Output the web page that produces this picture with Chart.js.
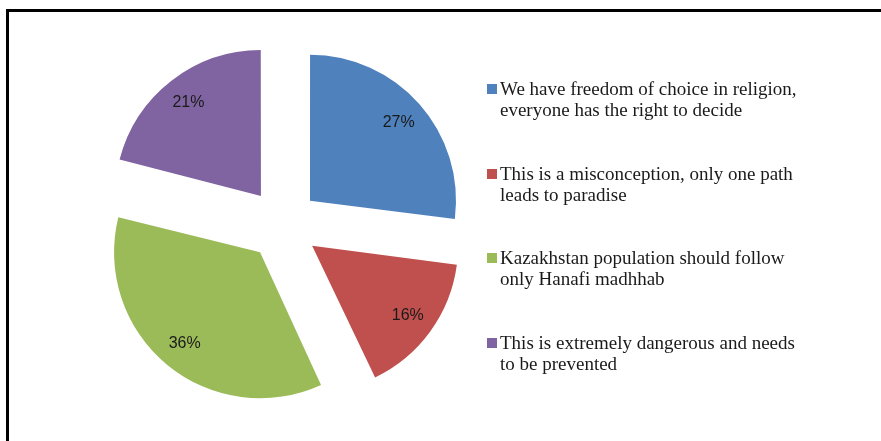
<!DOCTYPE html>
<html>
<head>
<meta charset="utf-8">
<script src="https://cdn.jsdelivr.net/npm/chart.js@4.4.1/dist/chart.umd.min.js"></script>
<style>
  html, body { margin: 0; padding: 0; background: #fff; }
  #wrap { position: relative; width: 881px; height: 441px; overflow: hidden; }
  #frame { position: absolute; left: 6px; top: 9px; width: 900px; height: 460px; border-top: 3px solid #000; border-left: 3px solid #000; }
  #pie { position: absolute; left: 0; top: 0; }
  #legend { position: absolute; left: 487px; top: 0; font-family: "Liberation Serif", "Times New Roman", serif; font-size: 19px; line-height: 21px; color: #1a1a1a; }
  .item { position: absolute; left: 0; white-space: nowrap; }
  .box { position: absolute; left: 0; top: 6px; width: 10px; height: 10px; }
  .text { position: absolute; left: 13px; top: 0; }
</style>
</head>
<body>
<div id="wrap">
  <div id="frame"></div>
  <canvas id="pie" width="881" height="441"></canvas>
  <div id="legend"></div>
</div>
<script>
const labels = [
    ['We have freedom of choice in religion,', 'everyone has the right to decide'],
    ['This is a misconception, only one path', 'leads to paradise'],
    ['Kazakhstan population should follow', 'only Hanafi madhhab'],
    ['This is extremely dangerous and needs', 'to be prevented']
];
const shares = [27, 16, 36, 21];
const colors = ['#4F81BD', '#C0504D', '#9BBB59', '#8064A2'];

const pieRadius = 146;
const explode = 36;          // px each slice is pushed out
const labelDist = 0.81;      // label position, fraction of radius past the slice tip

// Chart.js grows narrow exploded slices a little; undo that so every slice has the same radius
const evenRadius = {
    id: 'evenRadius',
    afterDatasetUpdate(chart, args) {
        const meta = chart.getDatasetMeta(args.index);
        meta.data.forEach(arc => {
            const fix = 1 - Math.sin(Math.min(Math.PI, arc.circumference));
            arc.outerRadius = pieRadius - explode * fix;
        });
    }
};

// percent labels inside the slices
const pctLabels = {
    id: 'pctLabels',
    afterDatasetsDraw(chart) {
        const ctx = chart.ctx;
        const meta = chart.getDatasetMeta(0);
        ctx.save();
        ctx.font = '16px "Liberation Sans", Arial, sans-serif';
        ctx.fillStyle = '#1a1a1a';
        ctx.textAlign = 'center';
        ctx.textBaseline = 'middle';
        meta.data.forEach((arc, i) => {
            const mid = (arc.startAngle + arc.endAngle) / 2;
            const d = explode + labelDist * pieRadius;
            ctx.fillText(shares[i] + '%', arc.x + Math.cos(mid) * d, arc.y + Math.sin(mid) * d);
        });
        ctx.restore();
    }
};

const ctx = document.getElementById('pie').getContext('2d');
new Chart(ctx, {
    type: 'pie',
    data: {
        labels: labels,
        datasets: [{
            data: shares,
            backgroundColor: colors,
            borderWidth: 0,
            offset: explode * 4,
            hoverOffset: 0
        }]
    },
    options: {
        responsive: false,
        animation: false,
        events: [],
        radius: pieRadius,
        layout: { padding: { left: 0, right: 315, top: 8, bottom: 0 } },
        plugins: { legend: { display: false }, tooltip: { enabled: false } }
    },
    plugins: [evenRadius, pctLabels]
});

// legend on the right
const legend = document.getElementById('legend');
const legendTop = 78;
const legendStep = 84.7;
labels.forEach((lines, i) => {
    const item = document.createElement('div');
    item.className = 'item';
    item.style.top = (legendTop + i * legendStep) + 'px';
    const box = document.createElement('div');
    box.className = 'box';
    box.style.background = colors[i];
    const text = document.createElement('div');
    text.className = 'text';
    text.innerHTML = lines.join('<br>');
    item.appendChild(box);
    item.appendChild(text);
    legend.appendChild(item);
});
</script>
</body>
</html>
